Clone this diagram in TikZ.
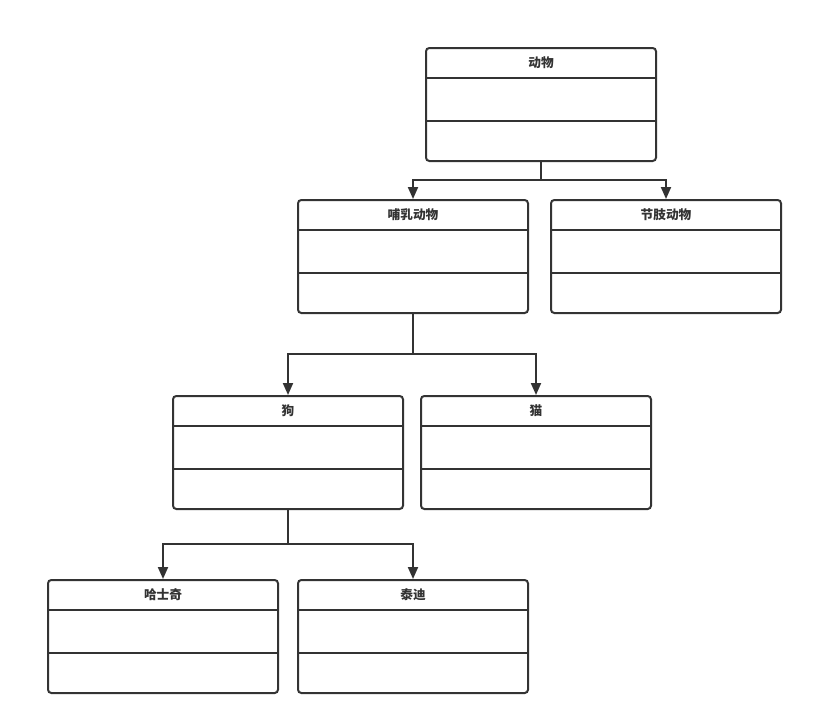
\documentclass[tikz,border=0pt]{standalone}
\usepackage{fontspec}
\newfontfamily\cjk{Noto Sans CJK SC}
\usetikzlibrary{arrows.meta}
\definecolor{ink}{HTML}{333333}
\tikzset{
  cls/.style={draw=ink, line width=1.5pt, rounded corners=2.5pt, minimum width=172.5pt, minimum height=84.75pt, inner sep=0pt, fill=white},
  ttl/.style={font=\cjk\bfseries\fontsize{9.5pt}{11pt}\selectfont, text=ink, inner sep=0pt},
  sep/.style={draw=ink, line width=1.5pt},
  conn/.style={draw=ink, line width=1.5pt, -{Triangle[length=9pt,width=7.5pt]}},
  trunk/.style={draw=ink, line width=1.5pt}
}
\newcommand{\umlclass}[4]{%
  \node[cls] (#1) at (#2,#3) {};
  \draw[sep] ([yshift=-23.25pt]#1.north west) -- ([yshift=-23.25pt]#1.north east);
  \draw[sep] ([yshift=-55.5pt]#1.north west) -- ([yshift=-55.5pt]#1.north east);
  \node[ttl] (#1-t) at ([yshift=-11.75pt]#1.north) {#4};
}
\begin{document}
\begin{tikzpicture}[x=0.75pt,y=-0.75pt]
\useasboundingbox (0,0) rectangle (813,725);
\umlclass{animal}{541}{104.5}{动物}
\umlclass{mammal}{413}{256.5}{哺乳动物}
\umlclass{arthro}{666}{256.5}{节肢动物}
\umlclass{dog}{288}{452.5}{狗}
\umlclass{cat}{536}{452.5}{猫}
\umlclass{husky}{163}{636.5}{哈士奇}
\umlclass{teddy}{413}{636.5}{泰迪}
\coordinate (j1) at (541,180);
\coordinate (j2) at (413,354);
\coordinate (j3) at (288,544);
\draw[trunk] (animal.south) -- (j1);
\draw[conn] (j1) -| (mammal.north);
\draw[conn] (j1) -| (arthro.north);
\draw[trunk] (mammal.south) -- (j2);
\draw[conn] (j2) -| (dog.north);
\draw[conn] (j2) -| (cat.north);
\draw[trunk] (dog.south) -- (j3);
\draw[conn] (j3) -| (husky.north);
\draw[conn] (j3) -| (teddy.north);
\end{tikzpicture}
\end{document}
